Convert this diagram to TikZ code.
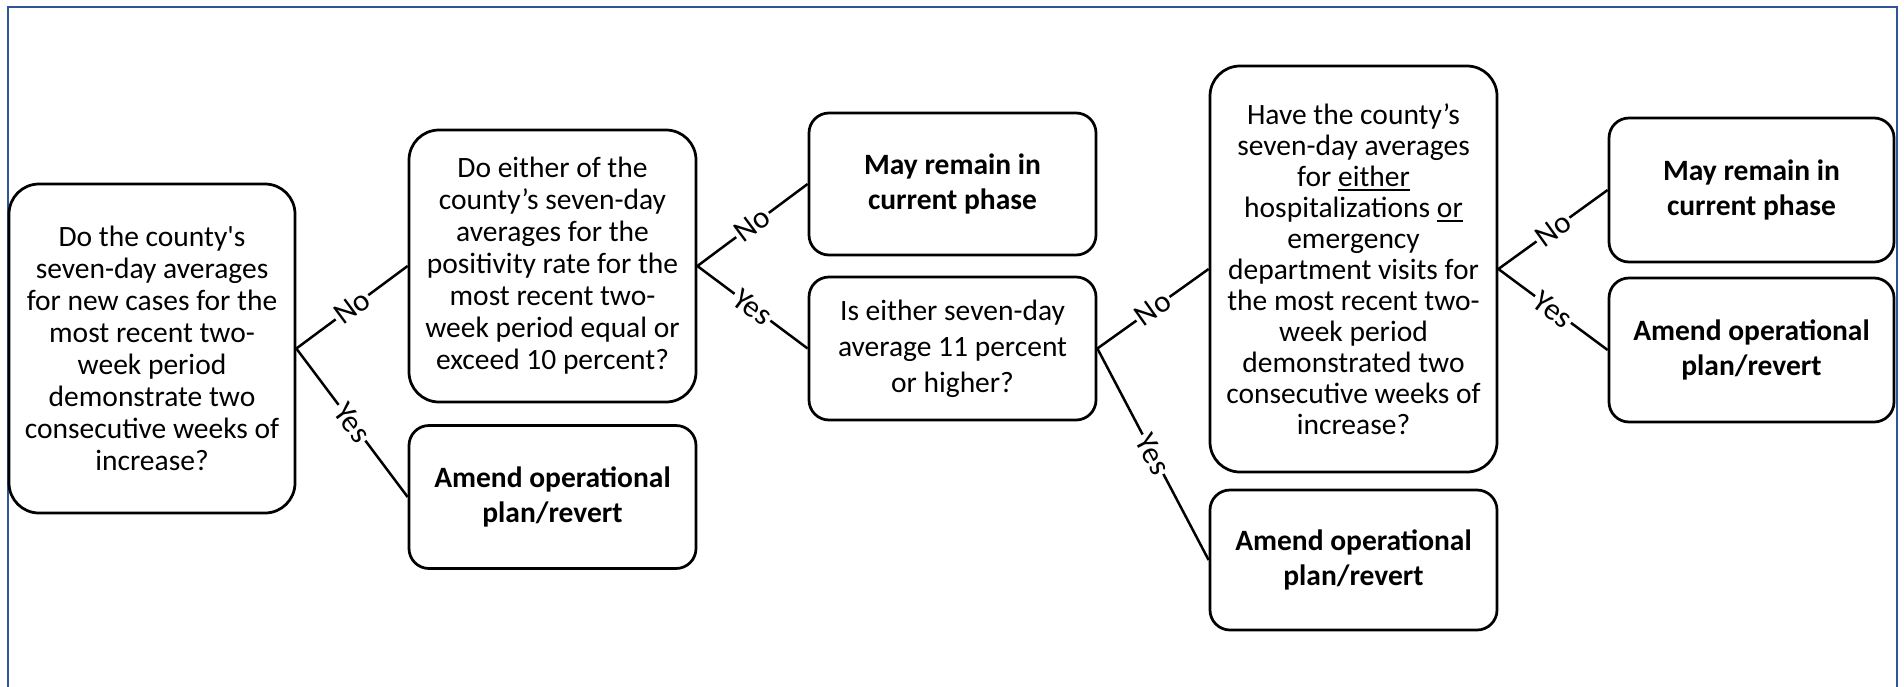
\documentclass[tikz,border=0pt]{standalone}
\usepackage{fontspec}
\setmainfont{Carlito}
\definecolor{frameblue}{RGB}{47,85,151}
\newcommand\myul[1]{\leavevmode\setbox0=\hbox{#1}\rlap{\rule[-5pt]{\wd0}{2pt}}\box0}
\begin{document}
\begin{tikzpicture}[x=1pt,y=-1pt,
  qbox/.style={draw, line width=2.75pt, rounded corners=30pt, inner sep=0pt, align=center,
    minimum width=287pt, font=\fontsize{29.5}{32}\selectfont},
  rbox/.style={draw, line width=2.75pt, rounded corners=20pt, inner sep=0pt, align=center,
    minimum width=287pt, minimum height=143pt, font=\fontsize{29.5}{35.5}\selectfont\bfseries},
  conn/.style={line width=2.5pt},
  lbl/.style={pos=0.5, sloped, fill=white, inner sep=2pt, font=\fontsize{31}{31}\selectfont}]
\useasboundingbox (0,0) rectangle (1904,686);
\draw[frameblue, line width=2.5pt] (8,690) -- (8,7) -- (1897,7) -- (1897,690);

\node[qbox, minimum width=286pt, minimum height=329pt] (A) at (152,348.5)
  {Do the county\textquotesingle s\\seven-day averages\\for new cases for the\\most recent two-\\week period\\demonstrate two\\consecutive weeks of\\increase?};
\node[qbox, minimum height=272pt] (B) at (552.5,266)
  {Do either of the\\county’s seven-day\\averages for the\\positivity rate for the\\most recent two-\\week period equal or\\exceed 10 percent?};
\node[rbox] (C) at (552.5,497) {Amend operational\\plan/revert};
\node[rbox, minimum height=142pt] (D) at (952.5,184) {May remain in\\current phase};
\node[qbox, rounded corners=20pt, minimum height=143pt, font=\fontsize{29.5}{35.8}\selectfont] (E) at (952.5,348.5)
  {Is either seven-day\\average 11 percent\\or higher?};
\node[qbox, minimum height=406pt, font=\fontsize{29.5}{31}\selectfont] (F) at (1353.5,269)
  {Have the county’s\\seven-day averages\\for \myul{either}\\hospitalizations \myul{or}\\emergency\\department visits for\\the most recent two-\\week period\\demonstrated two\\consecutive weeks of\\increase?};
\node[rbox, minimum height=140pt] (G) at (1353.5,560) {Amend operational\\plan/revert};
\node[rbox, minimum width=285pt, minimum height=144pt] (H) at (1751.5,190) {May remain in\\current phase};
\node[rbox, minimum width=285pt, minimum height=144pt] (I) at (1751.5,350) {Amend operational\\plan/revert};

\draw[conn] (A.east) -- (B.west) node[lbl] {No};
\draw[conn] (A.east) -- (C.west) node[lbl] {Yes};
\draw[conn] (B.east) -- (D.west) node[lbl] {No};
\draw[conn] (B.east) -- (E.west) node[lbl] {Yes};
\draw[conn] (E.east) -- (F.west) node[lbl] {No};
\draw[conn] (E.east) -- (G.west) node[lbl] {Yes};
\draw[conn] (F.east) -- (H.west) node[lbl] {No};
\draw[conn] (F.east) -- (I.west) node[lbl] {Yes};
\end{tikzpicture}
\end{document}
